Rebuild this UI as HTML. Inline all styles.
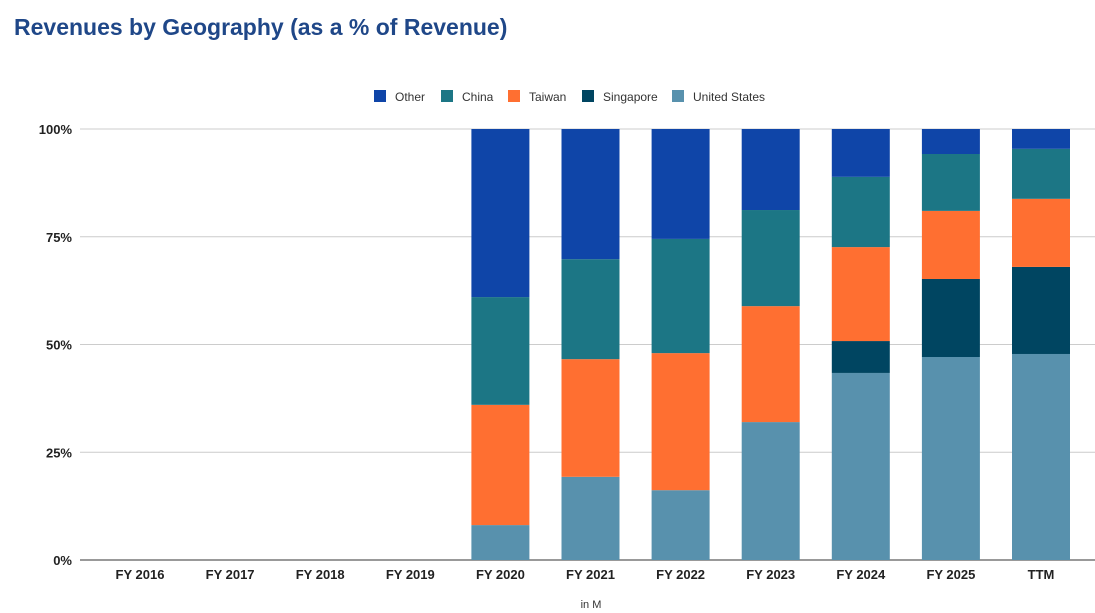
<!DOCTYPE html>
<html><head><meta charset="utf-8"><style>
body{margin:0;background:#fff;font-family:"Liberation Sans",Arial,sans-serif}
#title{position:absolute;left:14px;top:14px;font-size:23px;font-weight:bold;color:#1f4788;margin:0}
</style></head><body>
<h1 id="title">Revenues by Geography (as a % of Revenue)</h1>
<svg id="chart" width="1095" height="613" style="position:absolute;left:0;top:0"></svg>
<script>
const categories=["FY 2016","FY 2017","FY 2018","FY 2019","FY 2020","FY 2021","FY 2022","FY 2023","FY 2024","FY 2025","TTM"];
const seriesNames=["United States","Singapore","Taiwan","China","Other"];
const usValues=[0,0,0,0,8.1,19.3,16.2,32.0,43.4,47.1,47.8];
const singaporeValues=[0,0,0,0,0,0,0,0,7.4,18.1,20.2];
const taiwanValues=[0,0,0,0,27.9,27.3,31.8,26.9,21.8,15.8,15.8];
const chinaValues=[0,0,0,0,25.0,23.2,26.5,22.3,16.3,13.2,11.6];
const otherValues=[0,0,0,0,39.0,30.2,25.5,18.8,11.1,5.8,4.6];
const yTicks=[0,25,50,75,100];
const yTickLabels=["0%","25%","50%","75%","100%"];
const colors=["#5891ad","#004561","#ff6f31","#1c7685","#0f45a8"];
const series=[usValues,singaporeValues,taiwanValues,chinaValues,otherValues];
const svg=document.getElementById('chart');const NS="http://www.w3.org/2000/svg";
const x0=80,x1=1095,y0=560,y1=129;
const y=v=>y0-(v/100)*(y0-y1);
const band=90.1;
const xc=i=>140+i*band;
function mk(t,a){const e=document.createElementNS(NS,t);for(const k in a)e.setAttribute(k,a[k]);svg.appendChild(e);return e;}
yTicks.forEach((t,i)=>{
 const l=mk('line',{x1:x0,x2:x1,y1:y(t),y2:y(t),stroke:t===0?'#333':'#ccc','stroke-width':1});
 
 
 const tx=mk('text',{x:72,y:y(t)+5,'text-anchor':'end','font-size':13,'font-weight':'bold',fill:'#222'});
 tx.textContent=yTickLabels[i];
 
 
});
const bw=58;
categories.forEach((c,i)=>{
 let acc=0;
 series.forEach((s,j)=>{
  const v=s[i];if(v<=0)return;
  const r=mk('rect',{x:xc(i)-bw/2,y:y(acc+v),width:bw,height:y(acc)-y(acc+v),fill:colors[j]});
  
  
  acc+=v;
 });
 const t=mk('text',{x:xc(i),y:579,'text-anchor':'middle','font-size':13,'font-weight':'bold',fill:'#222'});
 t.textContent=c;
 
 
});
const legendOrder=[4,3,2,1,0];const lx=[374,441,508,582,672];
legendOrder.forEach((j,k)=>{
 const r=mk('rect',{x:lx[k],y:90,width:12,height:12,fill:colors[j]});
 
 
 const t=mk('text',{x:lx[k]+21,y:101,'font-size':12,fill:'#333'});
 t.textContent=seriesNames[j];
 
 
});
const xt=mk('text',{x:591,y:608,'text-anchor':'middle','font-size':11,fill:'#333'});
xt.textContent="in M";


</script>
</body></html>
